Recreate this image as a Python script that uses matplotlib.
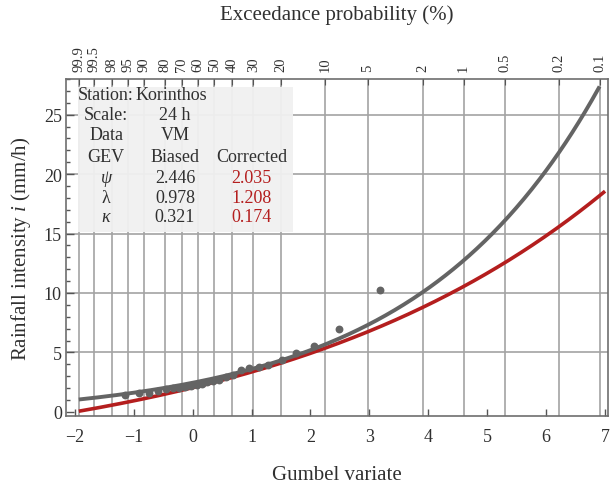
import numpy as np
import matplotlib
matplotlib.use("Agg")
import matplotlib.pyplot as plt
from matplotlib.patches import Rectangle
from matplotlib.ticker import MultipleLocator, FixedLocator, FuncFormatter

plt.rcParams['font.family'] = ['Liberation Serif', 'DejaVu Serif']
plt.rcParams['mathtext.fontset'] = 'custom'
plt.rcParams['mathtext.rm'] = 'Liberation Serif'
plt.rcParams['mathtext.it'] = 'Liberation Serif:italic'

# ---- data ----
obs_gumbel = [-1.15, -0.91, -0.74, -0.59, -0.455, -0.33, -0.23, -0.13, -0.02, 0.07,
              0.15, 0.24, 0.34, 0.445, 0.56, 0.69, 0.82, 0.96, 1.12, 1.28,
              1.51, 1.75, 2.06, 2.49, 3.18]
obs_intensity = [1.43, 1.57, 1.57, 1.77, 1.88, 2.0, 2.0, 2.08, 2.16, 2.27,
                 2.36, 2.5, 2.63, 2.69, 2.92, 3.06, 3.48, 3.68, 3.81, 3.96,
                 4.4, 4.97, 5.5, 6.99, 10.27]

params_biased = {"psi": 2.446, "lam": 0.978, "kappa": 0.321}
params_corrected = {"psi": 2.035, "lam": 1.208, "kappa": 0.174}

exceed_labels = ["99.9", "99.5", "98", "95", "90", "80", "70", "60", "50", "40",
                 "30", "20", "10", "5", "2", "1", "0.5", "0.2", "0.1"]
exceed_pct = [99.9, 99.5, 98, 95, 90, 80, 70, 60, 50, 40, 30, 20, 10, 5, 2, 1, 0.5, 0.2, 0.1]

table_rows = [
    ["Station:", "Korinthos", ""],
    ["Scale:", "24 h", ""],
    ["Data", "VM", ""],
    ["GEV", "Biased", "Corrected"],
    ["ψ", "2.446", "2.035"],
    ["λ", "0.978", "1.208"],
    ["κ", "0.321", "0.174"],
]


def gev_quantile(y, psi, lam, kappa):
    return psi + lam / kappa * (np.exp(kappa * y) - 1.0)


def gumbel_of_exceed(pct):
    F = 1.0 - np.asarray(pct) / 100.0
    return -np.log(-np.log(F))


GRAY = "#646464"
RED = "#b41e1e"
GRID = "#a3a3a3"
TXT = "#303030"

fig = plt.figure(figsize=(6.10, 4.85), dpi=100)
ax = fig.add_axes([66 / 610, 68 / 485, 542 / 610, 337 / 485])

xlo, xhi = -2.15, 7.05
ax.set_xlim(xlo, xhi)
ax.set_ylim(-0.35, 28.0)

# grid
gx = gumbel_of_exceed(exceed_pct)
for g in gx:
    ax.axvline(g, color=GRID, lw=1.2, zorder=1)
for yv in [5, 10, 15, 20, 25]:
    ax.axhline(yv, color=GRID, lw=1.2, zorder=1)

# curves
x_start = gumbel_of_exceed(99.9)
yy = np.linspace(x_start, 7.0, 400)
ax.plot(yy, gev_quantile(yy, **params_corrected), color=RED, lw=2.6, zorder=3,
        solid_capstyle='butt')
yg = np.linspace(x_start, gumbel_of_exceed(0.1), 400)
ax.plot(yg, gev_quantile(yg, **params_biased), color=GRAY, lw=2.8, zorder=4,
        solid_capstyle='butt')
ax.scatter(obs_gumbel, obs_intensity, s=32, color=GRAY, zorder=5, linewidths=0)

# ticks
ax.xaxis.set_major_locator(MultipleLocator(1))
ax.yaxis.set_major_locator(MultipleLocator(5))
ax.yaxis.set_minor_locator(MultipleLocator(1))
ax.tick_params(axis='both', which='both', direction='in', colors='#555555',
               labelcolor=TXT, labelsize=13, width=1.0)
ax.tick_params(axis='x', which='major', length=5, pad=9)
ax.tick_params(axis='y', which='major', length=6, pad=3)
ax.tick_params(axis='y', which='minor', length=3)
ax.xaxis.set_major_formatter(FuncFormatter(
    lambda v, p: ("\u2212%d" % abs(v)) if v < 0 else "%d" % v))
for s in ax.spines.values():
    s.set_color('#6e6e6e')
    s.set_linewidth(1.2)

ax.set_xlabel("Gumbel variate", fontsize=15, color=TXT, labelpad=14)
ax.set_ylabel("Rainfall intensity $\\mathit{i}$ (mm/h)", fontsize=15, color=TXT, labelpad=8)

# top axis
top = ax.twiny()
top.set_xlim(xlo, xhi)
top.xaxis.set_major_locator(FixedLocator(gx))
top.set_xticklabels(exceed_labels, rotation=90, fontsize=10.5, color=TXT)
top.tick_params(axis='x', direction='in', length=4, colors='#555555', labelcolor=TXT, pad=6)
for s in top.spines.values():
    s.set_visible(False)

fig.text(337 / 610, 1 - 20 / 485, "Exceedance probability (%)", fontsize=15,
         color=TXT, ha='center', va='baseline')

# table box
ax.add_patch(Rectangle((-1.95, 15.15), 3.65, 12.2, facecolor='#f1f1f1',
                       edgecolor='none', alpha=0.95, zorder=2))
col_x = [-1.47, -0.30, 1.005]
row_y = [26.68, 24.99, 23.31, 21.46, 19.70, 18.01, 16.41]
for r, (row, yv) in enumerate(zip(table_rows, row_y)):
    for c, (txt, xv) in enumerate(zip(row, col_x)):
        if not txt:
            continue
        color = RED if (c == 2 and r >= 4) else TXT
        style = 'italic' if (c == 0 and r >= 4 and txt != "λ") else 'normal'
        xpos = xv
        ha = 'center'
        if r == 0 and c == 0:
            xpos, ha = -1.0, 'right'
        if r == 0 and c == 1:
            xpos, ha = -0.97, 'left'
        ax.text(xpos, yv, txt, ha=ha, va='center', fontsize=13,
                color=color, style=style, zorder=6)

fig.savefig("out.png", dpi=100)
